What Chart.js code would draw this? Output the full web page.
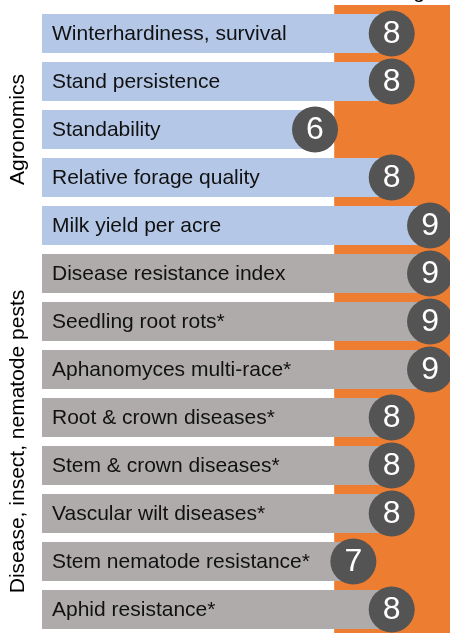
<!DOCTYPE html>
<html>
<head>
<meta charset="utf-8">
<style>
  html, body { margin: 0; padding: 0; background: #fff; }
  #traitChart { display: block; }
</style>
</head>
<body>
<canvas id="traitChart" width="450" height="634"></canvas>

<script src="https://cdn.jsdelivr.net/npm/chart.js"></script>
<script>
    // Traits et notes (1-9)
    var categories = [
        "Winterhardiness, survival",
        "Stand persistence",
        "Standability",
        "Relative forage quality",
        "Milk yield per acre",
        "Disease resistance index",
        "Seedling root rots*",
        "Aphanomyces multi-race*",
        "Root & crown diseases*",
        "Stem & crown diseases*",
        "Vascular wilt diseases*",
        "Stem nematode resistance*",
        "Aphid resistance*"
    ];
    var ratings = [8, 8, 6, 8, 9, 9, 9, 9, 8, 8, 8, 7, 8];

    // Groupes (axe vertical)
    var groupNames = ["Agronomics", "Disease, insect, nematode pests"];
    var groupSizes = [5, 8];
    var groupColors = ["#B4C7E7", "#AFABAB"];

    // Zone orange : notes au-dessus de 6.5
    var highlightFrom = 6.5;
    var axisMin = -1.12;
    var axisMax = 9.52;

    var barColors = [];
    groupSizes.forEach(function (n, g) {
        for (var i = 0; i < n; i++) barColors.push(groupColors[g]);
    });

    var font = "'Liberation Sans', Arial, sans-serif";

    // Fond orange derrière les barres
    var highlightPlugin = {
        id: 'highlight',
        beforeDatasetsDraw: function (chart) {
            var c = chart.ctx, x = chart.scales.x;
            var left = x.getPixelForValue(highlightFrom);
            c.save();
            c.fillStyle = "#ED7D31";
            c.fillRect(left, 5, chart.width - left, 628);
            // titre coupé en haut
            c.fillStyle = "#000";
            c.font = "21px " + font;
            c.textAlign = "right";
            c.textBaseline = "alphabetic";
            c.fillText("Rating", 425, -2);
            c.restore();
        }
    };

    // Libellés dans les barres, pastilles de note, titres de groupe
    var labelPlugin = {
        id: 'labels',
        afterDatasetsDraw: function (chart) {
            var c = chart.ctx, x = chart.scales.x, y = chart.scales.y;
            c.save();
            categories.forEach(function (label, i) {
                var cy = y.getPixelForValue(i);
                c.fillStyle = "#111";
                c.font = "21px " + font;
                c.textAlign = "left";
                c.textBaseline = "middle";
                c.fillText(label, x.left + 10, cy + 1);

                var cx = x.getPixelForValue(ratings[i]);
                c.beginPath();
                c.arc(cx, cy, 23, 0, Math.PI * 2);
                c.fillStyle = "#545454";
                c.fill();
                c.fillStyle = "#fff";
                c.font = "32px " + font;
                c.textAlign = "center";
                c.fillText(String(ratings[i]), cx, cy + 1);
            });

            var start = 0;
            groupNames.forEach(function (name, g) {
                var first = y.getPixelForValue(start);
                var last = y.getPixelForValue(start + groupSizes[g] - 1);
                c.save();
                c.translate(18, (first + last) / 2);
                c.rotate(-Math.PI / 2);
                c.fillStyle = "#000";
                c.font = "21px " + font;
                c.textAlign = "center";
                c.textBaseline = "middle";
                c.fillText(name, 0, 0);
                c.restore();
                start += groupSizes[g];
            });
            c.restore();
        }
    };

    var ctx = document.getElementById('traitChart').getContext('2d');
    var chart = new Chart(ctx, {
        type: 'bar',
        data: {
            labels: categories,
            datasets: [{
                data: ratings,
                base: axisMin,
                backgroundColor: barColors,
                borderWidth: 0,
                categoryPercentage: 1,
                barPercentage: 0.8125
            }]
        },
        options: {
            indexAxis: 'y',
            responsive: false,
            animation: false,
            layout: { padding: { left: 42, right: 0, top: 9.5, bottom: 0.5 } },
            plugins: {
                legend: { display: false },
                tooltip: { enabled: false }
            },
            scales: {
                x: { display: false, min: axisMin, max: axisMax },
                y: { display: false }
            }
        },
        plugins: [highlightPlugin, labelPlugin]
    });
</script>
</body>
</html>
